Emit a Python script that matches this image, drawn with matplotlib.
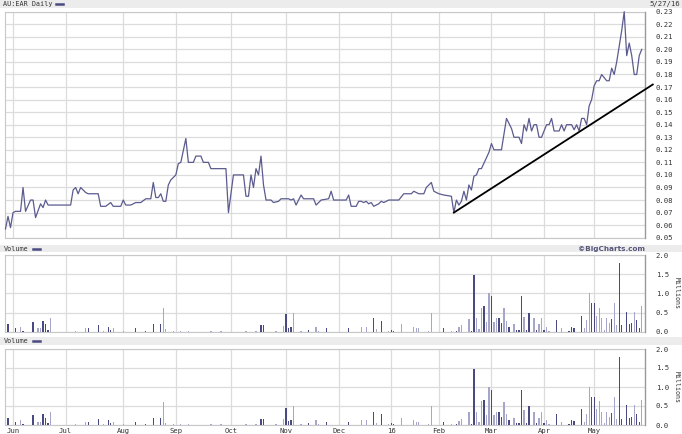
import matplotlib
matplotlib.use("Agg")
import matplotlib.pyplot as plt
from matplotlib.patches import Rectangle
from matplotlib.lines import Line2D
import numpy as np
import pandas as pd

# ---------------- data ----------------
# trading calendar (ASX) 2015-05-27 .. 2016-05-27, session index = position in calendar
asx_holidays = ["2015-06-08", "2015-12-25", "2015-12-28", "2016-01-01",
                "2016-01-26", "2016-03-25", "2016-03-28", "2016-04-25"]
month_labels = ["Jun", "Jul", "Aug", "Sep", "Oct", "Nov", "Dec", "16", "Feb", "Mar", "Apr", "May"]

# price (AUD) at session vertices
price_sessions = [0, 1, 2, 3, 4, 6, 7, 8, 10, 11, 12, 14, 15, 16, 17, 26, 27, 28, 29, 30,
                  32, 33, 37, 38, 40, 42, 43, 46, 47, 48, 50, 52, 54, 56, 58, 59, 60, 61, 62, 63,
                  64, 65, 66, 68, 69, 70, 72, 73, 75, 76, 78, 79, 81, 82, 88, 89, 91, 95, 96, 97,
                  98, 99, 100, 101, 102, 103, 104, 106, 107, 109, 110, 113, 114, 115, 116, 118, 119, 123, 124, 126,
                  129, 130, 131, 136, 137, 138, 140, 141, 142, 143, 144, 145, 146, 147, 149, 150, 151, 153, 157, 159,
                  162, 163, 165, 167, 168, 170, 171, 173, 175, 178, 179, 180, 181, 182, 183, 184, 185, 186, 187, 188,
                  189, 190, 193, 194, 195, 198, 200, 202, 203, 205, 206, 207, 208, 209, 210, 211, 212, 213, 214, 216,
                  217, 218, 219, 221, 222, 223, 224, 226, 227, 228, 229, 230, 231, 232, 233, 234, 235, 236, 237, 238,
                  240, 241, 242, 243, 244, 246, 247, 248, 249, 250, 251, 252, 253, 254]
price_values = [0.057, 0.067, 0.058, 0.070, 0.071, 0.071, 0.090, 0.071, 0.080, 0.080, 0.066, 0.077, 0.074, 0.080, 0.076, 0.076, 0.088, 0.090, 0.085, 0.090,
                0.086, 0.085, 0.085, 0.075, 0.075, 0.078, 0.075, 0.075, 0.080, 0.076, 0.076, 0.078, 0.078, 0.081, 0.081, 0.094, 0.082, 0.082, 0.085, 0.079,
                0.079, 0.092, 0.096, 0.100, 0.109, 0.110, 0.129, 0.110, 0.110, 0.115, 0.115, 0.110, 0.110, 0.105, 0.105, 0.070, 0.100, 0.100, 0.083, 0.083,
                0.100, 0.090, 0.105, 0.100, 0.115, 0.092, 0.080, 0.080, 0.078, 0.079, 0.081, 0.081, 0.080, 0.081, 0.076, 0.084, 0.081, 0.081, 0.076, 0.080,
                0.081, 0.087, 0.080, 0.080, 0.084, 0.075, 0.075, 0.079, 0.079, 0.078, 0.079, 0.077, 0.078, 0.075, 0.077, 0.079, 0.078, 0.080, 0.080, 0.085,
                0.085, 0.087, 0.085, 0.085, 0.090, 0.094, 0.087, 0.085, 0.084, 0.083, 0.070, 0.080, 0.076, 0.079, 0.087, 0.080, 0.092, 0.088, 0.099, 0.100,
                0.105, 0.105, 0.118, 0.125, 0.120, 0.120, 0.145, 0.137, 0.130, 0.130, 0.125, 0.140, 0.135, 0.145, 0.135, 0.140, 0.140, 0.130, 0.130, 0.140,
                0.140, 0.145, 0.135, 0.135, 0.140, 0.135, 0.140, 0.140, 0.136, 0.140, 0.135, 0.145, 0.145, 0.140, 0.155, 0.160, 0.171, 0.175, 0.175, 0.180,
                0.175, 0.175, 0.185, 0.180, 0.190, 0.215, 0.230, 0.195, 0.205, 0.195, 0.180, 0.180, 0.195, 0.200]

# trend line (session, price)
trend_sessions = [179, 258.4]
trend_values = [0.070, 0.172]

# daily volume, millions; dark = 1 for dark bars, 0 for light bars
vol_sessions = [1, 4, 6, 7, 11, 13, 14, 15, 16, 17, 18, 28, 32, 33, 37, 39, 41, 42, 43, 47,
                52, 56, 59, 62, 63, 64, 67, 70, 73, 82, 86, 96, 100, 102, 103, 108, 111, 112, 113, 114,
                115, 118, 121, 124, 125, 128, 137, 142, 144, 147, 148, 150, 153, 154, 155, 158, 163, 164, 165, 169,
                170, 175, 178, 180, 181, 182, 185, 186, 187, 188, 189, 190, 191, 192, 193, 194, 195, 196, 197, 198,
                199, 200, 201, 203, 204, 205, 206, 207, 208, 209, 211, 212, 213, 214, 215, 216, 217, 220, 222, 225,
                226, 227, 230, 231, 232, 233, 234, 235, 236, 237, 238, 239, 240, 241, 242, 243, 244, 245, 246, 248,
                249, 250, 251, 252, 253, 254]
vol_values = [0.19, 0.09, 0.13, 0.02, 0.26, 0.09, 0.09, 0.28, 0.19, 0.04, 0.35, 0.02, 0.09, 0.09, 0.17, 0.03, 0.13, 0.04, 0.09, 0.03,
              0.09, 0.02, 0.19, 0.19, 0.61, 0.06, 0.03, 0.02, 0.02, 0.02, 0.02, 0.02, 0.02, 0.17, 0.17, 0.02, 0.15, 0.46, 0.10, 0.13,
              0.49, 0.02, 0.04, 0.12, 0.03, 0.09, 0.09, 0.13, 0.13, 0.35, 0.06, 0.28, 0.02, 0.04, 0.03, 0.19, 0.12, 0.09, 0.09, 0.03,
              0.50, 0.09, 0.03, 0.03, 0.11, 0.17, 0.33, 0.02, 1.48, 0.35, 0.07, 0.63, 0.67, 0.26, 1.00, 0.93, 0.26, 0.35, 0.35, 0.22,
              0.61, 0.28, 0.13, 0.19, 0.04, 0.04, 0.93, 0.39, 0.04, 0.50, 0.35, 0.04, 0.19, 0.35, 0.04, 0.13, 0.03, 0.30, 0.09, 0.03,
              0.13, 0.10, 0.41, 0.09, 0.30, 1.00, 0.74, 0.74, 0.42, 0.63, 0.35, 0.05, 0.35, 0.22, 0.32, 0.74, 0.17, 1.78, 0.17, 0.52,
              0.19, 0.22, 0.52, 0.30, 0.09, 0.67]
vol_dark = [1, 1, 0, 1, 1, 0, 0, 1, 1, 1, 0, 0, 0, 1, 1, 0, 1, 1, 0, 0,
            1, 1, 1, 1, 0, 0, 0, 0, 0, 0, 0, 0, 0, 1, 1, 0, 0, 1, 1, 1,
            0, 0, 1, 0, 0, 1, 1, 0, 0, 1, 0, 1, 0, 1, 1, 0, 0, 0, 0, 0,
            0, 1, 0, 1, 0, 0, 0, 1, 1, 0, 0, 0, 1, 0, 0, 1, 0, 0, 1, 1,
            0, 0, 1, 0, 1, 1, 1, 0, 1, 1, 0, 1, 0, 0, 1, 0, 0, 1, 0, 1,
            1, 1, 1, 0, 0, 0, 1, 1, 0, 0, 0, 0, 0, 0, 1, 0, 0, 1, 1, 1,
            1, 1, 0, 1, 1, 0]

# ---------------- calendar ----------------
cal = pd.bdate_range("2015-05-27", "2016-05-27")
cal = cal[~cal.isin(pd.to_datetime(asx_holidays))]
periods = cal.to_period("M")
month_first = [i for i in range(1, len(cal)) if periods[i] != periods[i - 1]]

# ---------------- style ----------------
W, H = 682, 434
fig = plt.figure(figsize=(W / 100, H / 100), dpi=100)
fig.patch.set_facecolor("white")

LINE = "#5b5b8f"
DARK = "#4a4a82"
LIGHT = "#a6a6ca"
GRID = "#dcdcdc"
TXT = "#333333"
FS = 5.2
MONO = "DejaVu Sans Mono"

def rect(x0, y0, x1, y1):
    return [x0 / W, 1 - y1 / H, (x1 - x0) / W, (y1 - y0) / H]

# header bands
for (y0, y1) in [(0, 8), (245, 252), (337, 345)]:
    fig.patches.append(Rectangle((0, 1 - y1 / H), 1, (y1 - y0) / H,
                                 transform=fig.transFigure, facecolor="#ececec",
                                 edgecolor="none", zorder=0))

xlim = (-0.4, 255.1)

def style(ax, yticks, ylim, fmt):
    ax.set_xlim(*xlim)
    ax.set_ylim(*ylim)
    ax.set_yticks(yticks)
    ax.set_yticklabels([fmt.format(v) for v in yticks], family=MONO, fontsize=FS, color=TXT)
    ax.yaxis.tick_right()
    ax.tick_params(axis="y", length=0, pad=8)
    ax.set_xticks(month_first)
    ax.tick_params(axis="x", length=0, labelbottom=False)
    ax.grid(True, color=GRID, linewidth=0.9)
    ax.set_axisbelow(True)
    for s in ["left", "top", "bottom"]:
        ax.spines[s].set_color("#c8c8c8")
        ax.spines[s].set_linewidth(0.8)
    ax.spines["right"].set_color("#999999")
    ax.spines["right"].set_linewidth(1.0)
    ax.set_facecolor("white")

# price panel
ax1 = fig.add_axes(rect(4.5, 11.7, 644.5, 237.7))
pticks = [round(0.05 + 0.01 * i, 2) for i in range(19)]
style(ax1, pticks, (0.05, 0.23), "{:.2f}")
ax1.plot(price_sessions, price_values, color=LINE, linewidth=0.9, zorder=3, clip_on=False)
ax1.plot(trend_sessions, trend_values, color="black", linewidth=1.3, zorder=4, clip_on=False)

# volume panels
vticks = [0.0, 0.5, 1.0, 1.5, 2.0]
colors = [DARK if d else LIGHT for d in vol_dark]
vol_axes = []
for (y0, y1) in [(255, 331.7), (349, 425)]:
    ax = fig.add_axes(rect(4.5, y0, 644.5, y1))
    style(ax, vticks, (0, 2.0), "{:.1f}")
    ax.bar(vol_sessions, vol_values, width=0.5, color=colors, linewidth=0, zorder=3)
    ax.text(1.05, 0.5, "Millions", transform=ax.transAxes, rotation=270,
            ha="center", va="center", family=MONO, fontsize=4.8, color=TXT)
    vol_axes.append(ax)

axb = vol_axes[1]
axb.tick_params(axis="x", labelbottom=True, pad=2)
axb.set_xticklabels(month_labels, family=MONO, fontsize=FS, color=TXT)

# header texts
def header(x, y, label):
    return fig.text(x / W, 1 - y / H, label, family=MONO, fontsize=4.9, color=TXT,
                    ha="left", va="center")

header(3, 4, "AU:EAR Daily")
fig.lines.append(Line2D([56 / W, 63 / W], [1 - 4 / H, 1 - 4 / H], transform=fig.transFigure,
                        color=DARK, linewidth=1.8))
header(4, 248.5, "Volume")
fig.lines.append(Line2D([33 / W, 40 / W], [1 - 248.5 / H, 1 - 248.5 / H], transform=fig.transFigure,
                        color=DARK, linewidth=1.8))
header(4, 341, "Volume")
fig.lines.append(Line2D([33 / W, 40 / W], [1 - 341 / H, 1 - 341 / H], transform=fig.transFigure,
                        color=DARK, linewidth=1.8))
fig.text(645 / W, 1 - 248.5 / H, "\u00a9BigCharts.com", family="DejaVu Sans", fontsize=FS,
         fontweight="bold", color="#55557a", ha="right", va="center")
fig.text(680 / W, 1 - 4 / H, "5/27/16", family=MONO, fontsize=FS, color=TXT,
         ha="right", va="center")

fig.savefig("out.png", dpi=100, facecolor="white")
